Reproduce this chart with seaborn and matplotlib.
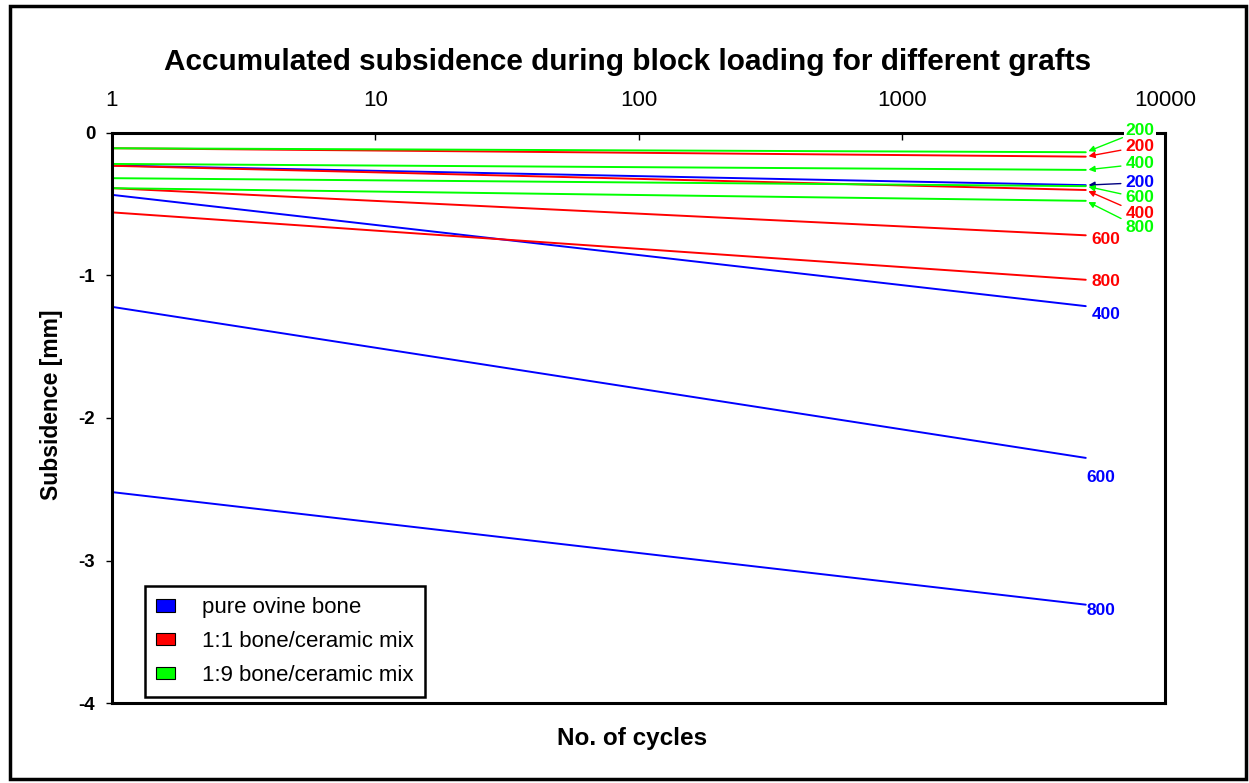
import matplotlib
matplotlib.use("Agg")
import matplotlib.pyplot as plt
import pandas as pd
import seaborn as sns
from matplotlib.patches import Patch, Rectangle
from matplotlib.ticker import FixedLocator, FixedFormatter, NullLocator

# ---------------- data ----------------
cycles = [1, 5000]
loads = ["200", "400", "600", "800"]
graft_names = ["pure ovine bone", "1:1 bone/ceramic mix", "1:9 bone/ceramic mix"]
graft_colors = ["#0000FF", "#FF0000", "#00FF00"]
arrow_colors = ["#000080", "#FF0000", "#00FF00"]

bone_start = [-0.228, -0.434, -1.22, -2.52]
bone_end = [-0.366, -1.215, -2.28, -3.31]
mix11_start = [-0.107, -0.23, -0.387, -0.557]
mix11_end = [-0.166, -0.40, -0.718, -1.03]
mix19_start = [-0.107, -0.217, -0.317, -0.387]
mix19_end = [-0.135, -0.259, -0.373, -0.476]

x_ticks = [1, 10, 100, 1000, 10000]
x_tick_labels = ["1", "10", "100", "1000", "10000"]
y_ticks = [0, -1, -2, -3, -4]
y_tick_labels = ["0", "-1", "-2", "-3", "-4"]

title = "Accumulated subsidence during block loading for different grafts"
xlabel = "No. of cycles"
ylabel = "Subsidence [mm]"

starts = [bone_start, mix11_start, mix19_start]
ends = [bone_end, mix11_end, mix19_end]
rows = []
for g, st, en in zip(graft_names, starts, ends):
    for ld, s, e in zip(loads, st, en):
        rows.append({"graft": g, "load": ld, "cycles": cycles[0], "subsidence": s})
        rows.append({"graft": g, "load": ld, "cycles": cycles[1], "subsidence": e})
df = pd.DataFrame(rows)

# ---------------- style ----------------
sns.set_style("white")
plt.rcParams["font.family"] = ["Liberation Sans", "DejaVu Sans"]
plt.rcParams["axes.unicode_minus"] = False
plt.rcParams["text.color"] = "black"
plt.rcParams["axes.labelcolor"] = "black"
plt.rcParams["xtick.color"] = "black"
plt.rcParams["ytick.color"] = "black"

W, H = 1249, 783
fig = plt.figure(figsize=(W / 100, H / 100), dpi=100)
L, R, T, B = 112, 1165, 133, 703
ax = fig.add_axes([L / W, 1 - B / H, (R - L) / W, (B - T) / H])

sns.lineplot(data=df, x="cycles", y="subsidence", hue="graft", units="load",
             estimator=None, hue_order=graft_names,
             palette=dict(zip(graft_names, graft_colors)),
             linewidth=1.4, legend=False, ax=ax)

ax.set_xscale("log")
ax.set_xlim(x_ticks[0], x_ticks[-1])
ax.set_ylim(y_ticks[-1], y_ticks[0])

ax.xaxis.tick_top()
ax.xaxis.set_major_locator(FixedLocator(x_ticks))
ax.xaxis.set_major_formatter(FixedFormatter(x_tick_labels))
ax.xaxis.set_minor_locator(NullLocator())
ax.yaxis.set_major_locator(FixedLocator(y_ticks))
ax.yaxis.set_major_formatter(FixedFormatter(y_tick_labels))
ax.tick_params(axis="x", which="major", direction="in", length=5, width=1,
               pad=16, labelsize=16, colors="black", top=True, bottom=False)
ax.tick_params(axis="y", which="major", direction="out", length=4, width=1,
               pad=8, labelsize=13.5, colors="black", left=True)
for lab in ax.get_yticklabels():
    lab.set_fontweight("bold")

for sp in ax.spines.values():
    sp.set_visible(True)
    sp.set_color("black")
    sp.set_linewidth(2.2)

ax.set_xlabel(xlabel, fontsize=17.5, fontweight="bold", color="black")
ax.xaxis.set_label_position("bottom")
ax.xaxis.set_label_coords((632 - L) / (R - L), (B - 727) / (B - T))
ax.set_ylabel(ylabel, fontsize=16.5, fontweight="bold", color="black")
ax.yaxis.set_label_coords((63 - L) / (R - L), (B - 405) / (B - T))

fig.text(628 / W, 1 - 62 / H, title, ha="center", va="center",
         fontsize=21.4, fontweight="bold", color="black")

# legend
handles = [Patch(facecolor=c, edgecolor="black", linewidth=0.8) for c in graft_colors]
leg = ax.legend(handles, graft_names, loc="lower left",
                bbox_to_anchor=((145 - L) / (R - L), (B - 697) / (B - T)),
                borderaxespad=0, fontsize=16, frameon=True, fancybox=False,
                framealpha=1, labelcolor="black",
                handlelength=0.85, handleheight=0.5, handletextpad=1.2,
                labelspacing=0.58, borderpad=0.5)
leg.get_frame().set_edgecolor("black")
leg.get_frame().set_linewidth(1.8)

# labels with arrows (top group): (graft index, load index, label y in image px)
arrow_items = [(2, 0, 130.7), (1, 0, 146.7), (2, 1, 164), (0, 0, 182.7),
               (2, 2, 198), (1, 1, 213.7), (2, 3, 228)]
for gi, li, yimg in arrow_items:
    yv = ends[gi][li]
    bbox = dict(boxstyle="square,pad=0.1", fc="white", ec="none") if yimg < 135 else None
    ax.annotate(loads[li], xy=(cycles[1], yv), xycoords="data",
                xytext=(1140, H - yimg), textcoords="figure pixels",
                ha="center", va="center", fontsize=12.5, fontweight="bold",
                color=graft_colors[gi], bbox=bbox, annotation_clip=False, zorder=10,
                arrowprops=dict(arrowstyle="-|>", color=arrow_colors[gi], lw=1,
                                mutation_scale=9, shrinkA=1, shrinkB=2))

# labels without arrows: (graft index, load index, dx px, dy px)
plain_items = [(1, 2, 20, -4), (1, 3, 20, -2), (0, 1, 20, -8), (0, 2, 15, -20), (0, 3, 15, -6)]
for gi, li, dx, dy in plain_items:
    yv = ends[gi][li]
    ax.annotate(loads[li], xy=(cycles[1], yv), xycoords="data",
                xytext=(dx * 0.72, dy * 0.72), textcoords="offset points",
                ha="center", va="center", fontsize=12.5, fontweight="bold",
                color=graft_colors[gi], annotation_clip=False)

# outer chart border
fig.patches.append(Rectangle((10 / W, (H - 779) / H), 1236 / W, 773 / H, fill=False,
                             ec="black", lw=2.5, transform=fig.transFigure, figure=fig))

fig.savefig("out.png", dpi=100)
